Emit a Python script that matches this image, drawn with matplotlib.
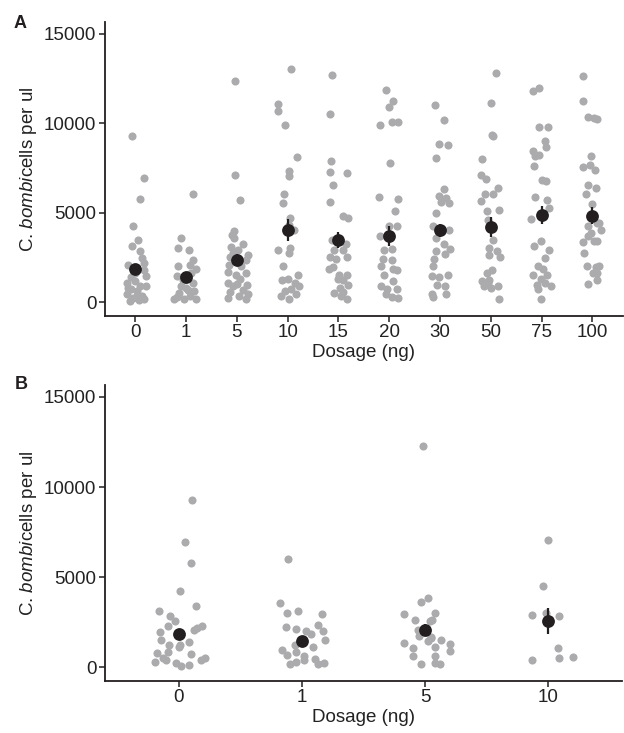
import matplotlib
matplotlib.use("Agg")
import matplotlib.pyplot as plt
import numpy as np

plt.rcParams["font.family"] = ["Liberation Sans", "DejaVu Sans"]
plt.rcParams["mathtext.fontset"] = "custom"
plt.rcParams["mathtext.rm"] = "Liberation Sans"
plt.rcParams["mathtext.it"] = "Liberation Sans:italic"

# panel A: dosage groups
doses_a = ["0", "1", "5", "10", "15", "20", "30", "50", "75", "100"]
means_a = [1850, 1440, 2400, 4050, 3500, 3700, 4030, 4200, 4870, 4850]
se_a = [270, 220, 300, 600, 430, 560, 380, 560, 500, 480]

# raw counts read per group (y) and horizontal jitter (dx, in group units)
y_0 = [9300, 6950, 5780, 4250, 3470, 3140, 2860, 2500, 2230, 2090, 1840, 1500, 1430, 1100,
       1190, 910, 910, 760, 630, 500, 390, 260, 130, 75, 200, 350, 800, 1650]
dx_0 = [-0.06, 0.17, 0.09, -0.04, 0.05, -0.07, 0.10, 0.14, 0.18, -0.14, 0.17, 0.22, -0.09, -0.16,
        0.0, 0.10, 0.22, -0.08, 0.04, -0.16, 0.14, -0.04, 0.07, -0.10, 0.17, 0.03, -0.14, -0.01]
y_1 = [6060, 3600, 3050, 2920, 2400, 2060, 2120, 1880, 1500, 1250, 1100, 910, 630, 690,
       320, 200, 170, 390, 540, 820, 1650, 200]
dx_1 = [0.13, -0.10, -0.16, 0.05, 0.14, -0.16, 0.07, 0.20, -0.18, -0.07, 0.14, -0.10, 0.16, 0.03,
        -0.18, -0.05, 0.20, 0.07, -0.13, 0.0, 0.10, -0.23]
y_5 = [12380, 7100, 5740, 3980, 3790, 3610, 3240, 3100, 2960, 2680, 2550, 2400, 2120, 2030,
       1690, 1510, 1620, 1320, 1100, 1060, 950, 690, 580, 500, 260, 170, 390, 910, 2770]
dx_5 = [-0.03, -0.04, 0.06, -0.06, -0.10, -0.06, 0.12, -0.12, 0.03, 0.22, -0.14, 0.19, -0.15, 0.09,
        -0.17, -0.02, 0.19, 0.06, -0.17, 0.0, 0.20, 0.12, -0.14, 0.22, -0.17, 0.19, 0.05, -0.07, -0.08]
y_10 = [13030, 11100, 10670, 9930, 8120, 7320, 7080, 6060, 5560, 4720, 4350, 4070, 2960, 3050,
        2770, 2030, 1560, 1280, 1320, 1100, 910, 760, 390, 200, 500, 630]
dx_10 = [0.07, -0.19, -0.18, -0.05, 0.19, 0.03, 0.02, -0.08, -0.09, 0.05, 0.02, 0.12, -0.19, 0.05,
         0.02, -0.10, 0.20, -0.12, 0.0, 0.14, 0.22, 0.07, -0.14, 0.02, 0.16, -0.05]
y_15 = [12700, 10520, 7880, 7290, 7210, 6560, 5600, 4810, 4720, 3510, 3290, 2960, 2960, 2550,
        2440, 2550, 1880, 1990, 1560, 1510, 1320, 1250, 1000, 820, 540, 580, 170, 390]
dx_15 = [-0.13, -0.17, -0.14, -0.16, 0.17, -0.10, -0.17, 0.10, 0.18, -0.12, 0.14, -0.09, 0.10, -0.17,
         -0.04, 0.16, -0.19, -0.10, 0.01, 0.17, -0.01, 0.10, 0.18, 0.03, -0.09, 0.10, 0.16, 0.05]
y_20 = [11880, 11270, 10910, 9910, 10060, 10060, 7810, 5870, 5780, 5090, 4260, 4260, 3700, 2990,
        2960, 2440, 2360, 2030, 1880, 1800, 1510, 1190, 910, 730, 760, 320, 260, 450]
dx_20 = [-0.06, 0.07, -0.01, -0.18, 0.05, 0.18, 0.02, -0.20, 0.17, 0.12, 0.15, 0.0, -0.18, 0.05,
         -0.10, -0.12, 0.05, -0.16, 0.08, 0.16, -0.11, 0.08, -0.16, -0.05, 0.16, 0.05, 0.18, -0.06]
y_30 = [11040, 10170, 8850, 8790, 8070, 6340, 5930, 5840, 5600, 5560, 5000, 4260, 4030, 3610,
        3290, 2990, 2860, 2730, 2440, 2060, 1470, 1430, 1510, 1000, 910, 450, 450, 320]
dx_30 = [-0.10, 0.07, -0.02, 0.16, -0.07, 0.07, -0.02, 0.12, 0.03, 0.18, -0.08, -0.14, 0.18, -0.07,
         0.07, 0.20, -0.08, 0.09, -0.12, -0.14, -0.15, -0.01, 0.16, -0.06, 0.09, -0.15, 0.12, -0.14]
y_50 = [12810, 11170, 9370, 9300, 8010, 7140, 6900, 6400, 6080, 6080, 5690, 5190, 5090, 4630,
        3510, 3050, 2860, 2680, 2550, 1800, 1650, 1190, 1280, 910, 820, 910, 200, 1100]
dx_50 = [0.10, 0.01, 0.03, 0.05, -0.18, -0.19, -0.09, 0.14, 0.04, -0.12, -0.19, 0.17, -0.08, -0.06,
         0.05, -0.03, 0.12, -0.04, 0.18, 0.03, -0.08, -0.17, -0.03, -0.14, 0.01, 0.14, 0.16, -0.06]
y_75 = [11790, 11970, 9830, 9780, 9000, 8680, 8440, 8250, 8160, 7640, 6820, 6770, 5870, 5740,
        5280, 4670, 4850, 3140, 3420, 2920, 2490, 2030, 1880, 1560, 1560, 1320, 1000, 910, 1100,
        760, 170]
dx_75 = [-0.17, -0.04, -0.04, 0.12, 0.07, 0.09, -0.17, -0.04, -0.12, -0.14, 0.0, 0.09, -0.12, 0.10,
         0.14, -0.20, 0.0, -0.14, -0.01, 0.14, 0.07, -0.07, 0.03, -0.17, 0.11, -0.01, -0.09, 0.19, 0.07,
         -0.07, -0.01]
y_100 = [12680, 11280, 10390, 10280, 10240, 8200, 7570, 7700, 7380, 6580, 6400, 6080, 5520, 4290,
         4440, 4070, 4440, 3890, 3420, 3370, 3700, 3420, 2770, 2030, 1990, 2060, 1650, 1650, 1060, 1280]
dx_100 = [-0.19, -0.19, -0.08, 0.03, 0.09, -0.03, -0.19, -0.04, 0.05, -0.08, 0.07, -0.12, -0.01, -0.08,
          0.14, 0.18, 0.09, -0.03, 0.04, -0.19, -0.08, 0.09, -0.16, -0.10, 0.07, 0.14, 0.01, 0.10, -0.08, 0.10]

# panel B: low dosage groups
doses_b = ["0", "1", "5", "10"]
means_b = [1830, 1440, 2100, 2570]
se_b = [250, 220, 330, 740]

yb_0 = [9260, 6930, 5780, 4240, 3430, 3130, 2830, 2570, 2280, 1960, 2090, 2280, 2200, 1540,
        1220, 1130, 1410, 800, 850, 760, 540, 390, 300, 240, 60, 110, 430, 500, 1220]
dxb_0 = [0.11, 0.05, 0.10, 0.01, 0.14, -0.16, -0.07, -0.03, -0.09, -0.15, 0.12, 0.19, 0.15, -0.14,
         -0.08, 0.0, 0.08, -0.18, -0.09, 0.10, -0.13, -0.10, -0.19, -0.02, 0.02, 0.08, 0.18, 0.21, 0.01]
yb_1 = [6040, 3570, 3020, 3130, 2940, 2240, 2150, 2020, 1870, 2330, 2020, 1540, 1130, 940,
        670, 850, 610, 480, 200, 300, 390, 170, 240, 1220]
dxb_1 = [-0.11, -0.18, -0.12, -0.03, 0.16, -0.13, -0.05, 0.03, 0.07, 0.13, 0.17, 0.19, 0.09, -0.16,
         -0.12, -0.05, 0.02, 0.11, -0.10, -0.05, 0.02, 0.13, 0.18, -0.06]
yb_5 = [12300, 3870, 3630, 2940, 3020, 2650, 2650, 2570, 2090, 1720, 1650, 1460, 1500, 1350,
        1320, 1090, 1130, 910, 610, 610, 240, 170, 170, 1700]
dxb_5 = [-0.02, 0.02, -0.03, -0.17, 0.08, -0.08, 0.06, 0.04, -0.06, -0.05, 0.05, 0.02, 0.13, -0.17,
         0.20, -0.10, 0.08, 0.20, -0.10, 0.08, 0.08, -0.03, 0.12, 0.05]
yb_10 = [7060, 4520, 2890, 3020, 2830, 1070, 540, 570, 390]
dxb_10 = [0.0, -0.04, -0.13, -0.02, 0.09, 0.08, 0.09, 0.20, -0.13]

pts_a = [(dx_0, y_0), (dx_1, y_1), (dx_5, y_5), (dx_10, y_10), (dx_15, y_15),
         (dx_20, y_20), (dx_30, y_30), (dx_50, y_50), (dx_75, y_75), (dx_100, y_100)]
pts_b = [(dxb_0, yb_0), (dxb_1, yb_1), (dxb_5, yb_5), (dxb_10, yb_10)]

GREY = "#ABABAD"
DARK = "#231F20"

fig = plt.figure(figsize=(6.24, 7.33), dpi=100)
ax_a = fig.add_axes([0.168, 0.569, 0.830, 0.401])
ax_b = fig.add_axes([0.168, 0.071, 0.829, 0.404])


def draw_panel(ax, doses, pts, means, se):
    for i, (dx, y) in enumerate(pts):
        xs = i + 1 + np.array(dx)
        ax.scatter(xs, y, s=34, color=GREY, linewidths=0, zorder=2)
    pos = np.arange(1, len(doses) + 1)
    ax.errorbar(pos, means, yerr=se, fmt="none", ecolor=DARK, elinewidth=1.6, zorder=3)
    ax.scatter(pos, means, s=85, color=DARK, linewidths=0, zorder=4)
    ax.set_xlim(0.4, len(doses) + 0.6)
    ax.set_ylim(-750, 15670)
    ax.set_xticks(pos)
    ax.set_xticklabels(doses)
    ax.set_yticks([0, 5000, 10000, 15000])
    for s in ["top", "right"]:
        ax.spines[s].set_visible(False)
    for s in ["left", "bottom"]:
        ax.spines[s].set_linewidth(1.3)
        ax.spines[s].set_color(DARK)
    ax.tick_params(length=4, width=1.1, color=DARK, labelsize=13.5, labelcolor="#222222", pad=2)
    ax.set_xlabel("Dosage (ng)", fontsize=13.5, color="#222222", labelpad=2)
    ax.set_ylabel(r"C. $\mathit{bombi}$cells per ul", fontsize=13.5, color="#222222", labelpad=4)


draw_panel(ax_a, doses_a, pts_a, means_a, se_a)
draw_panel(ax_b, doses_b, pts_b, means_b, se_b)

fig.text(0.022, 0.968, "A", fontsize=13, fontweight="bold", color=DARK, va="center")
fig.text(0.024, 0.476, "B", fontsize=13, fontweight="bold", color=DARK, va="center")

fig.savefig("out.png", dpi=100)
